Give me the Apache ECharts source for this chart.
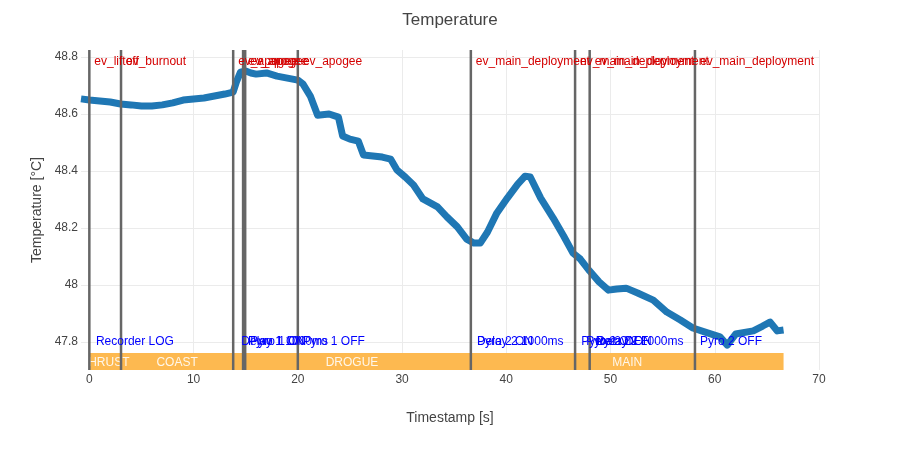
<!DOCTYPE html>
<html><head><meta charset="utf-8">
<script src="https://cdn.jsdelivr.net/npm/echarts@6/dist/echarts.min.js"></script>
<style>html,body{margin:0;padding:0;background:#fff}#c{width:900px;height:450px}</style>
</head><body><div id="c"></div>
<script>
// ---- data ----
const timeS = [
  -0.8, 0, 1, 2, 3, 4, 5, 6, 7, 8, 9, 10, 11, 12, 13, 13.8,
  14.1, 14.5, 15, 15.5, 16, 17, 18, 19, 20, 20.5, 21.2, 21.9,
  23, 23.9, 24.3, 25, 25.8, 26.3, 27.2, 28.1, 28.9, 29.5, 30.3,
  31.1, 32, 33.4, 34.3, 35.3, 36.2, 36.9, 37.5, 38.2, 39.1, 40.1,
  41.1, 41.8, 42.3, 43.3, 44.5, 45.5, 46.4, 47.1, 48, 48.9, 49.8,
  50.6, 51.5, 52.6, 54.1, 55.4, 56.7, 57.9, 59.3, 60.5, 61.2, 62,
  63.7, 64.6, 65.3, 66, 66.6
];
const tempC = [
  48.653, 48.649, 48.646, 48.642, 48.635, 48.632, 48.628, 48.628, 48.632, 48.639, 48.649, 48.653, 48.656, 48.663, 48.670, 48.677,
  48.712, 48.747, 48.751, 48.744, 48.740, 48.744, 48.733, 48.726, 48.719, 48.705, 48.663, 48.596,
  48.600, 48.589, 48.523, 48.512, 48.505, 48.456, 48.453, 48.449, 48.442, 48.404, 48.379,
  48.351, 48.302, 48.274, 48.239, 48.204, 48.161, 48.147, 48.147, 48.186, 48.253, 48.305,
  48.354, 48.382, 48.379, 48.305, 48.235, 48.172, 48.112, 48.091, 48.049, 48.011, 47.982,
  47.986, 47.989, 47.972, 47.947, 47.905, 47.877, 47.849, 47.832, 47.818, 47.789, 47.828,
  47.839, 47.856, 47.870, 47.839, 47.842
];
const xTicks = [0, 10, 20, 30, 40, 50, 60, 70];
const yTicks = [47.8, 48, 48.2, 48.4, 48.6, 48.8];
const xRange = [-0.8, 70];
const yRange = [47.7018, 48.8246];

const flightEventTimes = [0, 3.04, 13.8, 14.75, 14.95, 20.0, 36.6, 46.6, 48.0, 58.1];
const flightEventNames = ['ev_liftoff', 'ev_burnout', 'ev_apogee', 'ev_apogee', 'ev_apogee', 'ev_apogee',
  'ev_main_deployment', 'ev_main_deployment', 'ev_main_deployment', 'ev_main_deployment'];

const recorderEventTimes = [0.15, 14.1, 14.75, 14.95, 20.0, 36.7, 36.7, 46.7, 47.2, 48.1, 48.2, 58.1];
const recorderEventNames = ['Recorder LOG', 'Delay 1 1000ms', 'Pyro 1 ON', 'Pyro 1 ON', 'Pyro 1 OFF',
  'Pyro 2 ON', 'Delay 2 1000ms', 'Pyro 2 ON', 'Pyro 2 OFF', 'Pyro 2 ON', 'Delay 2 1000ms', 'Pyro 2 OFF'];
const recorderLabelLevel = 47.8;

const phaseNames = ['THRUST', 'COAST', 'DROGUE', 'MAIN'];
const phaseStarts = [0, 3.04, 13.8, 36.6];
const phaseEnds = [3.04, 13.8, 36.6, 66.6];

// ---- chart ----
const FONT = "'Liberation Sans', Arial, sans-serif";
const chart = echarts.init(document.getElementById('c'), null, {renderer: 'canvas'});
const tempData = timeS.map((t, i) => [t, tempC[i]]);
const phaseData = phaseNames.map((n, i) => [phaseStarts[i], phaseEnds[i], i]);

chart.setOption({
  animation: false,
  backgroundColor: '#fff',
  textStyle: {fontFamily: FONT},
  title: {
    text: 'Temperature', left: 'center', top: 7,
    textStyle: {fontSize: 17, fontWeight: 'normal', color: '#444', fontFamily: FONT}
  },
  grid: [
    {left: 81, right: 81, top: 50, bottom: 80},
    {left: 89.34, right: 81, top: 353, bottom: 80}
  ],
  xAxis: [
    {
      type: 'value', gridIndex: 0, min: xRange[0], max: xRange[1],
      axisLine: {show: false},
      axisTick: {show: false, customValues: xTicks},
      axisLabel: {customValues: xTicks, color: '#444', fontSize: 12, margin: 4, fontFamily: FONT},
      splitLine: {show: true, lineStyle: {color: '#ebebeb', width: 1}},
      name: 'Timestamp [s]', nameLocation: 'middle', nameGap: 41,
      nameTextStyle: {fontSize: 14, color: '#444', fontFamily: FONT}
    },
    {type: 'value', gridIndex: 1, min: 0, max: 70, show: false}
  ],
  yAxis: [
    {
      type: 'value', gridIndex: 0, min: yRange[0], max: yRange[1],
      axisLine: {show: false},
      axisTick: {show: false, customValues: yTicks},
      axisLabel: {customValues: yTicks, color: '#444', fontSize: 12, margin: 3, fontFamily: FONT},
      splitLine: {show: true, lineStyle: {color: '#ebebeb', width: 1}},
      name: 'Temperature [°C]', nameLocation: 'middle', nameGap: 37, nameRotate: 90,
      nameTextStyle: {fontSize: 14, color: '#444', fontFamily: FONT}
    },
    {type: 'value', gridIndex: 1, min: 0, max: 1, show: false}
  ],
  series: [
    {
      type: 'line', xAxisIndex: 0, yAxisIndex: 0, data: tempData,
      showSymbol: false, smooth: false, z: 2,
      lineStyle: {color: '#1f77b4', width: 7, join: 'round'}
    },
    {
      type: 'custom', xAxisIndex: 1, yAxisIndex: 1, z: 3, clip: true, silent: true,
      data: phaseData,
      encode: {x: [0, 1]},
      renderItem(params, api) {
        const p0 = api.coord([api.value(0), 1]);
        const p1 = api.coord([api.value(1), 0]);
        return {type: 'rect', shape: {x: p0[0], y: p0[1], width: p1[0] - p0[0], height: p1[1] - p0[1]},
                style: {fill: '#fdb950'}};
      }
    },
    {
      type: 'custom', xAxisIndex: 1, yAxisIndex: 1, z: 4, clip: true, silent: true,
      data: phaseData,
      encode: {x: [0, 1]},
      renderItem(params, api) {
        const p0 = api.coord([api.value(0), 1]);
        const p1 = api.coord([api.value(1), 0]);
        const idx = api.value(2);
        return {type: 'text', x: (p0[0] + p1[0]) / 2, y: (p0[1] + p1[1]) / 2 + 1,
                style: {text: phaseNames[idx], fill: 'rgba(255,255,255,0.88)', font: '12px ' + FONT,
                        align: 'center', verticalAlign: 'middle'}};
      }
    },
    {
      type: 'custom', xAxisIndex: 0, yAxisIndex: 0, z: 5, silent: true, clip: false,
      data: flightEventTimes.map((t, i) => [t, i]),
      encode: {x: 0},
      renderItem(params, api) {
        const cs = params.coordSys;
        const x = api.coord([api.value(0), yRange[0]])[0];
        return {type: 'line', shape: {x1: x, y1: cs.y, x2: x, y2: cs.y + cs.height},
                style: {stroke: '#666', lineWidth: 2.5}};
      }
    },
    {
      type: 'custom', xAxisIndex: 0, yAxisIndex: 0, z: 6, silent: true, clip: false,
      data: flightEventTimes.map((t, i) => [t, i]),
      encode: {x: 0},
      renderItem(params, api) {
        const cs = params.coordSys;
        const x = api.coord([api.value(0), yRange[0]])[0];
        return {type: 'text', x: x + 5, y: cs.y + 12,
          style: {text: flightEventNames[api.value(1)], fill: '#d40000', font: '12px ' + FONT,
                  align: 'left', verticalAlign: 'middle'}};
      }
    },
    {
      type: 'custom', xAxisIndex: 0, yAxisIndex: 0, z: 6, silent: true, clip: false,
      data: recorderEventTimes.map((t, i) => [t, i]),
      encode: {x: 0},
      renderItem(params, api) {
        const p = api.coord([api.value(0), recorderLabelLevel]);
        return {type: 'text', x: p[0] + 5, y: p[1],
          style: {text: recorderEventNames[api.value(1)], fill: '#0000ff', font: '12px ' + FONT,
                  align: 'left', verticalAlign: 'middle'}};
      }
    }
  ]
});
</script>
</body></html>
